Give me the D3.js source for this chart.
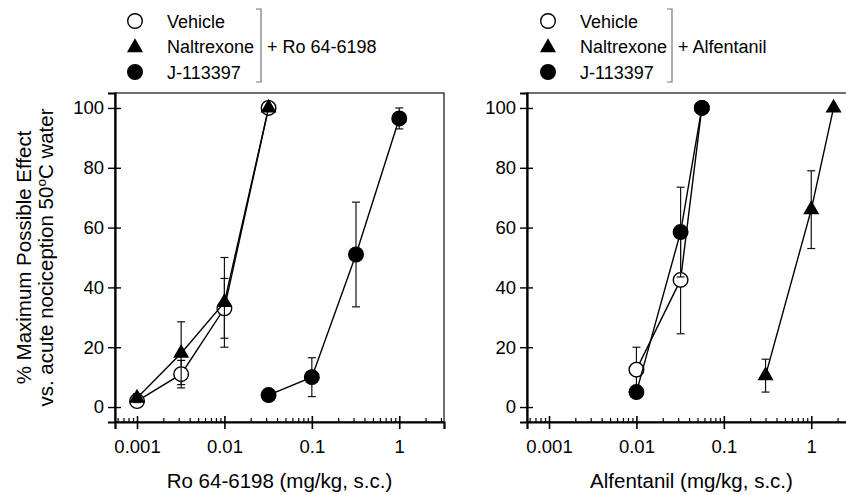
<!DOCTYPE html>
<html>
<head>
<meta charset="utf-8">
<script src="https://cdn.jsdelivr.net/npm/d3@7"></script>
<style>
  body { margin: 0; background: #fff; }
  text { font-family: "Liberation Sans", Arial, sans-serif; fill: #000; }
</style>
</head>
<body>
<div id="chart-area"></div>
<script>
// dose-response data (% MPE, mean and SEM)
const xTicks = [0.001, 0.01, 0.1, 1]
const xTickLabels = ["0.001", "0.01", "0.1", "1"]
const yTicks = [0, 20, 40, 60, 80, 100]
const seriesNames = ["Vehicle", "Naltrexone", "J-113397"]

// panel A: Ro 64-6198
const roVehicleDose = [0.001, 0.0032, 0.01, 0.032]
const roVehicleMPE = [2, 11, 33, 100]
const roVehicleSEM = [1, 4.6, 10, 0]
const roNaltrexoneDose = [0.001, 0.0032, 0.01, 0.032]
const roNaltrexoneMPE = [3, 18, 35, 100]
const roNaltrexoneSEM = [1.5, 10.5, 15, 0]
const roJDose = [0.032, 0.1, 0.32, 1]
const roJMPE = [4, 10, 51, 96.5]
const roJSEM = [0, 6.5, 17.5, 3.5]

// panel B: Alfentanil
const alfVehicleDose = [0.01, 0.032, 0.056]
const alfVehicleMPE = [12.5, 42.5, 100]
const alfVehicleSEM = [7.5, 18, 0]
const alfNaltrexoneDose = [0.3, 1, 1.8]
const alfNaltrexoneMPE = [10.5, 66, 100]
const alfNaltrexoneSEM = [5.5, 13, 0]
const alfJDose = [0.01, 0.032, 0.056]
const alfJMPE = [5, 58.5, 100]
const alfJSEM = [1, 15, 0]

const W = 846, H = 495
const PANEL_W = 329, PANEL_H = 329
const TOP = 93

const svg = d3.select("#chart-area")
    .append("svg")
    .attr("width", W)
    .attr("height", H)

const x = d3.scaleLog().domain([0.00056, 3.25]).range([0, PANEL_W])
const y = d3.scaleLinear().domain([-5, 105]).range([PANEL_H, 0])

const zip = (dose, mpe, sem) => dose.map((d, i) => ({ dose: d, mpe: mpe[i], sem: sem[i] }))

// minor tick positions 2..9 in each decade
const minorTicks = []
for (let e = -4; e <= 0; e++) {
    for (let m = 2; m <= 9; m++) {
        const v = m * Math.pow(10, e)
        if (v > x.domain()[0] && v < x.domain()[1]) minorTicks.push(v)
    }
}

function drawPanel(left, xLabel, series) {
    const g = svg.append("g").attr("transform", `translate(${left}, ${TOP})`)

    // frame
    g.append("rect")
        .attr("width", PANEL_W).attr("height", PANEL_H)
        .attr("fill", "none").attr("stroke", "#222").attr("stroke-width", 1.3)

    // x axis: major ticks cross the line, minor ticks point in
    const xMinor = g.append("g")
        .attr("transform", `translate(0, ${PANEL_H})`)
        .call(d3.axisBottom(x).tickValues(minorTicks).tickSize(-4).tickFormat(""))
    xMinor.select(".domain").remove()
    xMinor.selectAll("line").attr("stroke", "#000").attr("stroke-width", 1.2)

    const xAxis = g.append("g")
        .attr("transform", `translate(0, ${PANEL_H})`)
        .call(d3.axisBottom(x).tickValues(xTicks).tickSize(7).tickFormat((d, i) => xTickLabels[i]))
    xAxis.select(".domain").attr("stroke-width", 2.2).attr("stroke", "#000")
    xAxis.selectAll(".tick line").attr("y1", -6).attr("stroke-width", 1.6)
    xAxis.selectAll(".tick text").attr("y", 18).attr("font-size", 18.5)

    // y axis
    const yAxis = g.append("g")
        .call(d3.axisLeft(y).tickValues(yTicks).tickSize(7))
    yAxis.select(".domain").attr("stroke-width", 2.2).attr("stroke", "#000")
    yAxis.selectAll(".tick line").attr("x1", 6).attr("stroke-width", 1.4)
    yAxis.selectAll(".tick text").attr("x", -11).attr("font-size", 18.5)
    g.selectAll(".tick text").attr("font-family", "Liberation Sans, Arial, sans-serif").attr("fill", "#000")

    // x label
    g.append("text")
        .attr("x", PANEL_W / 2)
        .attr("y", 395)
        .attr("text-anchor", "middle")
        .attr("font-size", 20.5)
        .text(xLabel)

    const line = d3.line().x(d => x(d.dose)).y(d => y(d.mpe))

    series.forEach(s => {
        const pts = zip(s.dose, s.mpe, s.sem)

        // error bars
        const eb = g.append("g").attr("stroke", "#111").attr("stroke-width", 1.2)
        pts.filter(p => p.sem > 0).forEach(p => {
            const cx = x(p.dose)
            eb.append("line").attr("x1", cx).attr("x2", cx)
                .attr("y1", y(p.mpe - p.sem)).attr("y2", y(p.mpe + p.sem))
            eb.append("line").attr("x1", cx - 4).attr("x2", cx + 4)
                .attr("y1", y(p.mpe - p.sem)).attr("y2", y(p.mpe - p.sem))
            eb.append("line").attr("x1", cx - 4).attr("x2", cx + 4)
                .attr("y1", y(p.mpe + p.sem)).attr("y2", y(p.mpe + p.sem))
        })

        g.append("path")
            .datum(pts)
            .attr("d", line)
            .attr("fill", "none")
            .attr("stroke", "#000")
            .attr("stroke-width", 1.4)

        drawMarkers(g, pts, s.type)
    })
}

function drawMarkers(g, pts, type) {
    if (type === "triangle") {
        g.selectAll(null).data(pts).enter()
            .append("path")
            .attr("d", d3.symbol(d3.symbolTriangle, 112)())
            .attr("transform", d => `translate(${x(d.dose)}, ${y(d.mpe)})`)
            .attr("fill", "#000")
    } else {
        g.selectAll(null).data(pts).enter()
            .append("circle")
            .attr("cx", d => x(d.dose))
            .attr("cy", d => y(d.mpe))
            .attr("r", 7.3)
            .attr("fill", type === "open" ? "#fff" : "#000")
            .attr("stroke", "#000")
            .attr("stroke-width", 1.4)
    }
}

drawPanel(115, "Ro 64-6198 (mg/kg, s.c.)", [
    { type: "open", dose: roVehicleDose, mpe: roVehicleMPE, sem: roVehicleSEM },
    { type: "triangle", dose: roNaltrexoneDose, mpe: roNaltrexoneMPE, sem: roNaltrexoneSEM },
    { type: "filled", dose: roJDose, mpe: roJMPE, sem: roJSEM }
])

drawPanel(527, "Alfentanil (mg/kg, s.c.)", [
    { type: "open", dose: alfVehicleDose, mpe: alfVehicleMPE, sem: alfVehicleSEM },
    { type: "filled", dose: alfJDose, mpe: alfJMPE, sem: alfJSEM },
    { type: "triangle", dose: alfNaltrexoneDose, mpe: alfNaltrexoneMPE, sem: alfNaltrexoneSEM }
])

// y axis title, two lines
const yTitle = svg.append("text")
    .attr("transform", `translate(0, ${TOP + PANEL_H / 2}) rotate(-90)`)
    .attr("text-anchor", "middle")
    .attr("font-size", 20.5)
yTitle.append("tspan").attr("x", 0).attr("y", 31).text("% Maximum Possible Effect")
const l2 = yTitle.append("tspan").attr("x", 0).attr("y", 53)
l2.append("tspan").text("vs. acute nociception 50")
l2.append("tspan").attr("font-size", 13.5).attr("dy", -7).text("o")
l2.append("tspan").attr("dy", 7).text("C water")

// legends
function drawLegend(symX, bracketX, drug) {
    const rows = [21, 46.5, 72]
    const types = ["open", "triangle", "filled"]
    const lg = svg.append("g")
    rows.forEach((ry, i) => {
        if (types[i] === "triangle") {
            lg.append("path")
                .attr("d", d3.symbol(d3.symbolTriangle, 112)())
                .attr("transform", `translate(${symX}, ${ry + 1})`)
                .attr("fill", "#000")
        } else {
            lg.append("circle")
                .attr("cx", symX).attr("cy", ry).attr("r", 7.3)
                .attr("fill", types[i] === "open" ? "#fff" : "#000")
                .attr("stroke", "#000").attr("stroke-width", 1.4)
        }
        lg.append("text")
            .attr("x", symX + 32)
            .attr("y", ry + 6.5)
            .attr("font-size", 18)
            .text(seriesNames[i])
    })
    lg.append("path")
        .attr("d", `M${bracketX - 5},9 H${bracketX} V82 H${bracketX - 5}`)
        .attr("fill", "none")
        .attr("stroke", "#777")
        .attr("stroke-width", 1.2)
    lg.append("text")
        .attr("x", bracketX + 6)
        .attr("y", 53)
        .attr("font-size", 18)
        .text("+ " + drug)
}

drawLegend(135, 261, "Ro 64-6198")
drawLegend(548, 672, "Alfentanil")
</script>
</body>
</html>
